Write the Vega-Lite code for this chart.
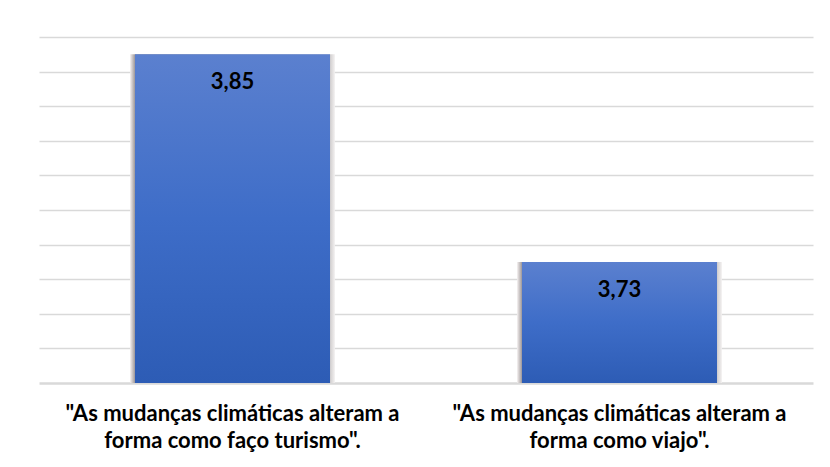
{
  "$schema": "https://vega.github.io/schema/vega-lite/v6.json",
  "width": 774,
  "height": 346,
  "autosize": {"type": "none"},
  "padding": {"left": 39, "top": 37, "right": 17, "bottom": 84},
  "background": "white",
  "config": {
    "view": {"stroke": null},
    "locale": {"number": {"decimal": ",", "thousands": ".", "grouping": [3], "currency": ["", " €"]}},
    "font": "Lato"
  },
  "data": {
    "values": [
      {"label": "\"As mudanças climáticas alteram a\nforma como faço turismo\".", "media": 3.85},
      {"label": "\"As mudanças climáticas alteram a\nforma como viajo\".", "media": 3.73}
    ]
  },
  "encoding": {
    "x": {
      "field": "label",
      "type": "nominal",
      "sort": null,
      "scale": {"paddingInner": 0.496, "paddingOuter": 0.248},
      "axis": {
        "title": null,
        "labelAngle": 0,
        "labelExpr": "split(datum.label, '\\n')",
        "labelFont": "Lato",
        "labelFontWeight": "bold",
        "labelFontSize": 22,
        "labelColor": "#000000",
        "labelLineHeight": 27,
        "labelBaseline": "top",
        "labelPadding": 20,
        "labelLimit": 0,
        "ticks": false,
        "domain": true,
        "domainColor": "#d9d9d9",
        "domainWidth": 2.5,
        "grid": false
      }
    },
    "y": {
      "field": "media",
      "type": "quantitative",
      "scale": {"domain": [3.66, 3.86], "zero": false, "nice": false},
      "axis": {
        "title": null,
        "labels": false,
        "labelOverlap": false,
        "ticks": false,
        "domain": false,
        "grid": true,
        "gridColor": "#d9d9d9",
        "gridWidth": 1.5,
        "tickCount": 10,
        "values": [3.68, 3.70, 3.72, 3.74, 3.76, 3.78, 3.80, 3.82, 3.84, 3.86]
      }
    },
    "y2": {"datum": 3.66}
  },
  "layer": [
    {
      "mark": {
        "type": "bar",
        "width": {"band": 1.05},
        "fill": {
          "x1": 0, "y1": 0, "x2": 1, "y2": 0,
          "gradient": "linear",
          "stops": [
            {"offset": 0, "color": "#f3efef"},
            {"offset": 0.025, "color": "#9b9494"},
            {"offset": 0.5, "color": "#b8b4b4"},
            {"offset": 0.975, "color": "#cfcccc"},
            {"offset": 1, "color": "#f3f1f1"}
          ]
        }
      }
    },
    {
      "mark": {
        "type": "bar",
        "fill": {
          "x1": 0, "y1": 0, "x2": 0, "y2": 1,
          "gradient": "linear",
          "stops": [
            {"offset": 0, "color": "#5b80cf"},
            {"offset": 0.5, "color": "#3e6dc8"},
            {"offset": 1, "color": "#2d5cb5"}
          ]
        }
      }
    },
    {
      "mark": {
        "type": "text",
        "font": "Lato",
        "fontWeight": "bold",
        "fontSize": 22,
        "color": "#000000",
        "baseline": "middle",
        "dy": 28
      },
      "encoding": {
        "y2": null,
        "text": {"field": "media", "type": "quantitative", "format": ".2f"}
      }
    }
  ]
}
